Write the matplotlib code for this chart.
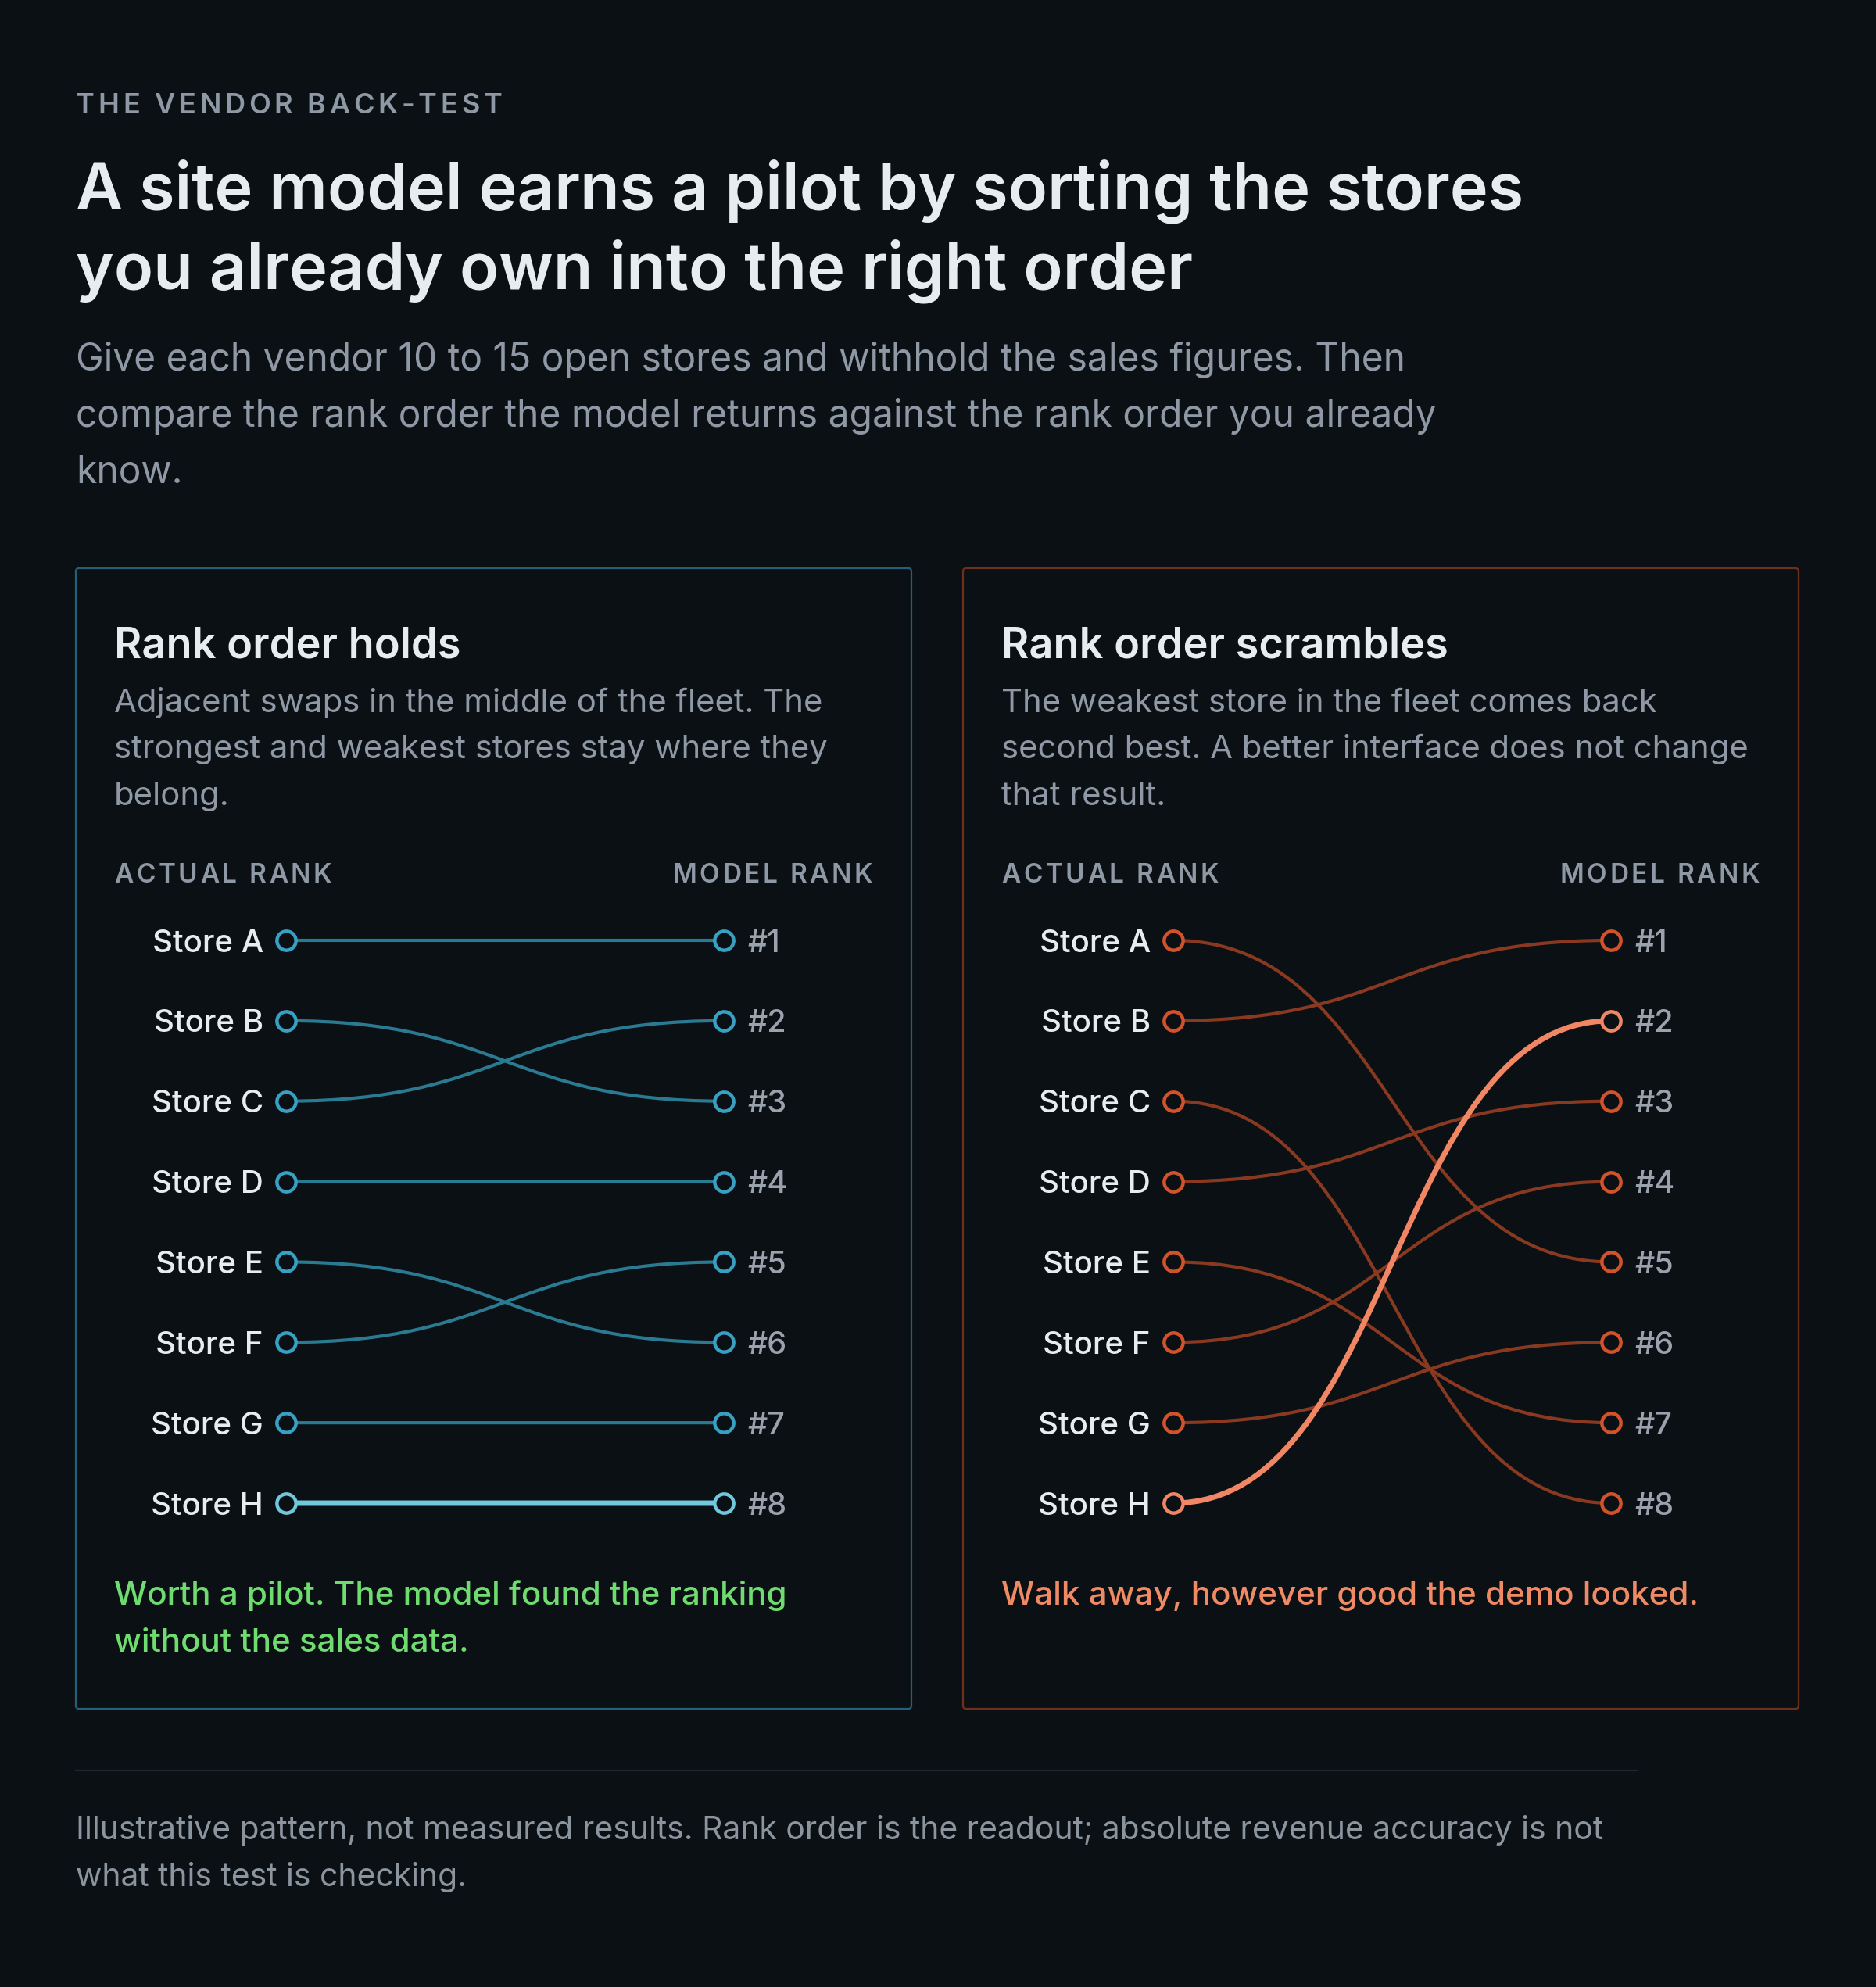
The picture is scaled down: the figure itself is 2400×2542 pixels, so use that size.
import matplotlib
matplotlib.use("Agg")
from matplotlib import pyplot as plt
from matplotlib import font_manager
from matplotlib.ft2font import FT2Font
from matplotlib.path import Path
from matplotlib.patches import PathPatch, FancyBboxPatch

# Data
stores = ["Store A", "Store B", "Store C", "Store D", "Store E", "Store F", "Store G", "Store H"]
actual_rank = [1, 2, 3, 4, 5, 6, 7, 8]
model_rank_holds = [1, 3, 2, 4, 6, 5, 7, 8]
model_rank_scrambles = [5, 1, 8, 3, 7, 4, 6, 2]
rank_labels = ["#1", "#2", "#3", "#4", "#5", "#6", "#7", "#8"]
highlight_store = "Store H"

kicker = "THE VENDOR BACK-TEST"
title_lines = ["A site model earns a pilot by sorting the stores",
               "you already own into the right order"]
subtitle_lines = ["Give each vendor 10 to 15 open stores and withhold the sales figures. Then",
                  "compare the rank order the model returns against the rank order you already",
                  "know."]
footer_lines = ["Illustrative pattern, not measured results. Rank order is the readout; absolute revenue accuracy is not",
                "what this test is checking."]

panels = [
    dict(title="Rank order holds",
         desc=["Adjacent swaps in the middle of the fleet. The",
               "strongest and weakest stores stay where they",
               "belong."],
         model=model_rank_holds,
         verdict=["Worth a pilot. The model found the ranking", "without the sales data."],
         edge="#24607a", line="#2a7a92", dot="#38a0c2", hi="#6fc8dc", verdict_color="#6fdc6f"),
    dict(title="Rank order scrambles",
         desc=["The weakest store in the fleet comes back",
               "second best. A better interface does not change",
               "that result."],
         model=model_rank_scrambles,
         verdict=["Walk away, however good the demo looked."],
         edge="#6e2f1c", line="#8a3921", dot="#d2522a", hi="#f08664", verdict_color="#f08a64"),
]

BG = "#0b1014"
WHITE = "#e8ecf0"
MUTED = "#8e99a5"
FONT = "Inter"
W, H, DPI = 2400, 2542, 100

plt.rcParams["font.family"] = [FONT, "DejaVu Sans"]

fig = plt.figure(figsize=(W / DPI, H / DPI), dpi=DPI, facecolor=BG)
bg = fig.add_axes([0, 0, 1, 1])
bg.set_xlim(0, W)
bg.set_ylim(H, 0)
bg.axis("off")
bg.set_facecolor(BG)


def tracked(x, y, s, size, track_em, weight="semibold", color=MUTED, ha="left"):
    # draw text with letter spacing, one glyph at a time
    fp = font_manager.FontProperties(family=FONT, weight=weight)
    font = FT2Font(font_manager.findfont(fp))
    font.set_size(size, DPI)
    advs = [font.load_char(ord(c)).linearHoriAdvance / 65536 for c in s]
    track = track_em * size * DPI / 72
    total = sum(advs) + track * (len(s) - 1)
    cx = x - total if ha == "right" else x
    for c, a in zip(s, advs):
        bg.text(cx, y, c, fontsize=size, fontweight=weight, color=color,
                va="baseline", ha="left")
        cx += a + track


def lines(x, y0, step, rows, **kw):
    for i, t in enumerate(rows):
        bg.text(x, y0 + i * step, t, va="baseline", ha="left", **kw)


# Header
tracked(97, 145, kicker, 26, 0.13)
lines(97, 267, 102, title_lines, fontsize=59.6, fontweight="semibold", color=WHITE)
lines(97, 474, 72, subtitle_lines, fontsize=34.5, color=MUTED)

# Panels
panel_x = [97, 1232]
panel_w = 1069
LABEL_SIZE = 29
for px, p in zip(panel_x, panels):
    bg.add_patch(FancyBboxPatch((px, 727), panel_w, 1459,
                                boxstyle="round,pad=0,rounding_size=4",
                                fc="none", ec=p["edge"], lw=1.6))
    tx = px + 49
    bg.text(tx, 841, p["title"], fontsize=39, fontweight="semibold",
            color=WHITE, va="baseline")
    lines(tx, 911, 59.5, p["desc"], fontsize=30.1, color=MUTED)
    tracked(tx, 1129, "ACTUAL RANK", 24, 0.11)
    tracked(px + 1019, 1129, "MODEL RANK", 24, 0.11, ha="right")
    lines(tx, 2053, 60, p["verdict"], fontsize=30.3, fontweight="medium",
          color=p["verdict_color"])

    # slope axes: x 0 = actual, x 1 = model, y = rank
    x0 = px + 269
    ax = fig.add_axes([x0 / W, 1 - 1923 / H, 560 / W, 720 / H])
    ax.set_xlim(0, 1)
    ax.set_ylim(8, 1)
    ax.axis("off")
    ax.patch.set_alpha(0)

    order = sorted(range(len(stores)), key=lambda i: stores[i] == highlight_store)
    for i in order:
        a, m = actual_rank[i], p["model"][i]
        is_hi = stores[i] == highlight_store
        c = p["hi"] if is_hi else p["line"]
        path = Path([(0, a), (0.5, a), (0.5, m), (1, m)],
                    [Path.MOVETO, Path.CURVE4, Path.CURVE4, Path.CURVE4])
        ax.add_patch(PathPatch(path, fc="none", ec=c, lw=5.0 if is_hi else 3.0,
                               capstyle="butt", zorder=3 if is_hi else 2, clip_on=False))

    # baseline offset so the cap height sits centred on the marker
    dy = -LABEL_SIZE * 0.727 / 2
    for i, s in enumerate(stores):
        is_hi = s == highlight_store
        c = p["hi"] if is_hi else p["dot"]
        ax.plot([0], [actual_rank[i]], "o", ms=17.5, mfc=BG, mec=c, mew=3.2,
                zorder=5, clip_on=False)
        ax.annotate(s, (0, actual_rank[i]), xytext=(-21, dy), textcoords="offset points",
                    ha="right", va="baseline", fontsize=LABEL_SIZE, fontweight="medium",
                    color=WHITE)
    hi_model = p["model"][stores.index(highlight_store)]
    for r, lab in zip(actual_rank, rank_labels):
        c = p["hi"] if r == hi_model else p["dot"]
        ax.plot([1], [r], "o", ms=17.5, mfc=BG, mec=c, mew=3.2, zorder=5, clip_on=False)
        ax.annotate(lab, (1, r), xytext=(22, dy), textcoords="offset points",
                    ha="left", va="baseline", fontsize=28.5, fontweight="medium",
                    color="#9aa3ad")

# Footer
bg.plot([97, 2095], [2265, 2265], color="#1e272d", lw=1.6)
lines(97, 2353, 60, footer_lines, fontsize=29.4, color="#8b95a0")

fig.savefig("out.png", dpi=DPI, facecolor=BG)
